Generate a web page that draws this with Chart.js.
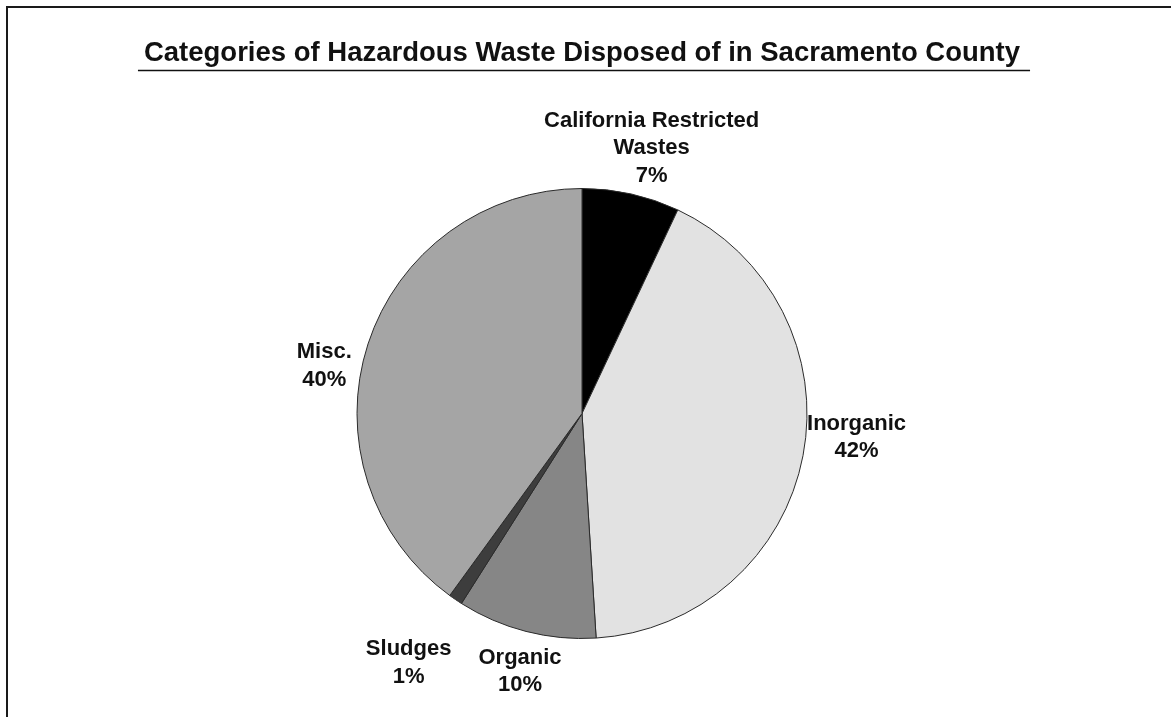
<!DOCTYPE html>
<html lang="en">
<head>
<meta charset="utf-8">
<title>Categories of Hazardous Waste Disposed of in Sacramento County</title>
<script src="https://cdn.jsdelivr.net/npm/chart.js@4"></script>
<style>
  html, body { margin: 0; padding: 0; background: #fff; overflow: hidden; }
  #wrap { position: relative; width: 1171px; height: 717px; }
  #frame {
    position: absolute; left: 6px; top: 6px; width: 2000px; height: 2000px;
    border-top: 2px solid #1a1a1a; border-left: 2px solid #1a1a1a;
    pointer-events: none;
  }
</style>
</head>
<body>
<div id="wrap">
  <canvas id="grafico" width="1171" height="717"></canvas>
  <div id="frame"></div>
</div>
<script>
// ─── Dados ───────────────────────────────────────────────────────────────────
const titulo = 'Categories of Hazardous Waste Disposed of in Sacramento County';
const categorias = [
  ['California Restricted', 'Wastes'],
  ['Inorganic'],
  ['Organic'],
  ['Sludges'],
  ['Misc.'],
];
const percentuais = [7, 42, 10, 1, 40];

// ─── Estilo ──────────────────────────────────────────────────────────────────
const cores = ['#000000', '#e2e2e2', '#868686', '#3d3d3d', '#a5a5a5'];
const fonte = '"Liberation Sans", Arial, Helvetica, sans-serif';
// ajuste fino dos rótulos: desvio de ângulo (graus) e distância (x raio)
const rotuloDesvio = [2.1, -5.8, -0.9, 0.6, -7.5];
const rotuloDist = [1.22, 1.225, 1.18, 1.35, 1.165];

// sublinhado do título
const sublinhadoPlugin = {
  id: 'sublinhado',
  afterDraw(chart) {
    const { ctx } = chart;
    const tb = chart.titleBlock;
    ctx.save();
    ctx.font = 'bold 27.5px ' + fonte;
    const w = ctx.measureText(titulo).width;
    const cx = (tb.left + tb.right) / 2;
    ctx.beginPath();
    ctx.moveTo(cx - w / 2 - 6, 70.5);
    ctx.lineTo(cx + w / 2 + 10, 70.5);
    ctx.lineWidth = 1.5;
    ctx.strokeStyle = '#111';
    ctx.stroke();
    ctx.restore();
  },
};

// rótulos fora da pizza
const rotulosPlugin = {
  id: 'rotulos',
  afterDraw(chart) {
    const { ctx } = chart;
    const arcs = chart.getDatasetMeta(0).data;
    ctx.save();
    ctx.font = 'bold 22px ' + fonte;
    ctx.fillStyle = '#111';
    ctx.textAlign = 'center';
    ctx.textBaseline = 'middle';
    arcs.forEach((arc, i) => {
      const p = arc.getProps(['x', 'y', 'startAngle', 'endAngle', 'outerRadius'], true);
      const a = (p.startAngle + p.endAngle) / 2 + rotuloDesvio[i] * Math.PI / 180;
      const r = p.outerRadius * rotuloDist[i];
      const cx = p.x + Math.cos(a) * r;
      const cy = p.y + Math.sin(a) * r;
      const linhas = [...categorias[i], percentuais[i] + '%'];
      const lh = 27.5;
      const y0 = cy - (linhas.length - 1) * lh / 2;
      linhas.forEach((txt, k) => ctx.fillText(txt, cx, y0 + k * lh));
    });
    ctx.restore();
  },
};

new Chart(document.getElementById('grafico').getContext('2d'), {
  type: 'pie',
  plugins: [sublinhadoPlugin, rotulosPlugin],
  data: {
    labels: categorias.map(c => c.join(' ')),
    datasets: [{
      data: percentuais,
      backgroundColor: cores,
      borderColor: '#2a2a2a',
      borderWidth: 1,
      hoverOffset: 0,
      radius: 225,
    }],
  },
  options: {
    responsive: false,
    animation: false,
    devicePixelRatio: 1,
    layout: { padding: { left: 0, right: 7, top: 0, bottom: 10 } },
    plugins: {
      legend: { display: false },
      tooltip: { enabled: false },
      title: {
        display: true,
        text: titulo,
        color: '#111',
        font: { family: fonte, size: 27.5, weight: 'bold' },
        padding: { top: 37, bottom: 50 },
      },
    },
  },
});
</script>
</body>
</html>
